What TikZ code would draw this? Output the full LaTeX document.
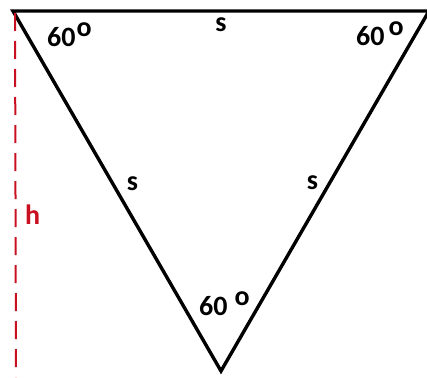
\documentclass[tikz,border=0pt]{standalone}
\usepackage{fontspec}
\setmainfont{Carlito}
\definecolor{hred}{RGB}{200,16,32}
\tikzset{
  tri/.style={line width=3.4pt, line join=miter, black},
  hline/.style={hred, line width=2pt, dash pattern=on 18pt off 10pt},
  lbl/.style={inner sep=0pt, font=\fontsize{28}{32}\selectfont\bfseries},
  ang/.style={lbl, anchor=base west},
}
\begin{document}
\begin{tikzpicture}[x=1pt,y=1pt]
\useasboundingbox (0,0) rectangle (427,-377);
\coordinate (A) at (13,-11);
\coordinate (B) at (429,-11);
\coordinate (C) at (221,-371);
\draw[tri] (A) -- (B) -- (C) -- cycle;
\coordinate (h1) at (15,-13);
\coordinate (h2) at (16,-377);
\draw[hline] (h1) -- (h2);
\node[lbl, hred, anchor=base west] (hlab) at (25,-224) {h};
\node[ang] (a1) at (47,-47) {60\kern1pt\raisebox{10pt}{o}};
\node[ang] (a2) at (356,-46) {60\kern4pt\raisebox{10pt}{o}};
\node[ang] (a3) at (199,-315) {60\kern7pt\raisebox{10pt}{o}};
\node[lbl] (s1) at (221,-24.5) {s};
\node[lbl] (s2) at (132.5,-183.5) {s};
\node[lbl] (s3) at (312.5,-182.5) {s};
\end{tikzpicture}
\end{document}
